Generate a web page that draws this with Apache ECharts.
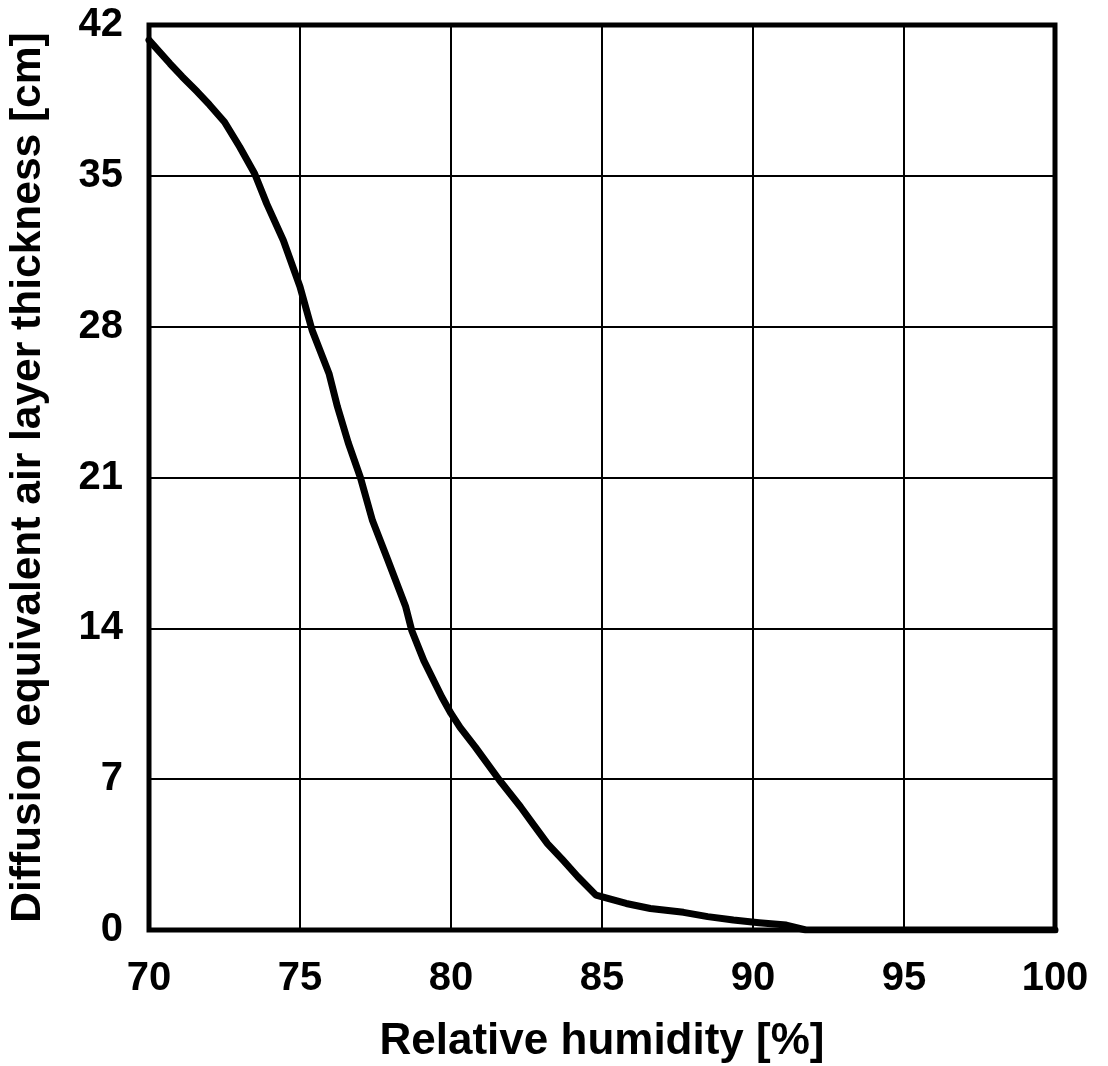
<!DOCTYPE html>
<html>
<head>
<meta charset="utf-8">
<script src="https://cdn.jsdelivr.net/npm/echarts@6/dist/echarts.min.js"></script>
<style>
html,body{margin:0;padding:0;background:#fff;}
#chart{width:1108px;height:1066px;}
</style>
</head>
<body>
<div id="chart"></div>
<script>
const relativeHumidity = [70, 70.7, 71.1, 71.6, 72.0, 72.5, 73.0, 73.5, 73.9, 74.45, 75.0, 75.4, 75.96, 76.24, 76.6, 77.0, 77.4, 77.9, 78.5, 78.7, 79.1, 79.7, 80.0, 80.3, 80.8, 81.6, 82.3, 82.7, 83.2, 83.7, 84.2, 84.8, 85.8, 86.6, 87.7, 88.5, 89.35, 90.2, 91.1, 91.75, 100];
const airLayerThickness = [41.3, 40.2, 39.6, 38.9, 38.3, 37.5, 36.35, 35.1, 33.7, 32.0, 29.85, 27.84, 25.83, 24.28, 22.6, 21.0, 19.0, 17.2, 15.0, 13.9, 12.5, 10.8, 10.05, 9.4, 8.5, 6.96, 5.72, 4.95, 4.0, 3.25, 2.47, 1.62, 1.23, 1.0, 0.82, 0.62, 0.46, 0.34, 0.23, 0.0, 0.0];
const xTicks = [70, 75, 80, 85, 90, 95, 100];
const yTicks = [0, 7, 14, 21, 28, 35, 42];
const xTitle = 'Relative humidity [%]';
const yTitle = 'Diffusion equivalent air layer thickness [cm]';

const font = 'Liberation Sans, Arial, sans-serif';
const chart = echarts.init(document.getElementById('chart'), null, {renderer: 'canvas'});
chart.setOption({
  animation: false,
  backgroundColor: '#ffffff',
  grid: {
    left: 149, right: 53, top: 25, bottom: 136,
    containLabel: false, outerBoundsMode: 'none',
    show: true, borderColor: '#000', borderWidth: 5, backgroundColor: 'transparent'
  },
  xAxis: {
    type: 'value',
    min: xTicks[0], max: xTicks[xTicks.length - 1], interval: 5,
    name: xTitle, nameLocation: 'middle', nameGap: 90,
    nameTextStyle: {fontFamily: font, fontWeight: 'bold', fontSize: 44, color: '#000'},
    axisLine: {show: false},
    axisTick: {show: false},
    axisLabel: {margin: 29, fontFamily: font, fontWeight: 'bold', fontSize: 40, color: '#000'},
    splitLine: {show: true, lineStyle: {color: '#000', width: 2}}
  },
  yAxis: {
    type: 'value',
    min: yTicks[0], max: yTicks[yTicks.length - 1], interval: 7,
    name: yTitle, nameLocation: 'middle', nameGap: 99, nameRotate: 90,
    nameTextStyle: {fontFamily: font, fontWeight: 'bold', fontSize: 42.5, color: '#000'},
    axisLine: {show: false},
    axisTick: {show: false},
    axisLabel: {margin: 26, fontFamily: font, fontWeight: 'bold', fontSize: 40, color: '#000'},
    splitLine: {show: true, lineStyle: {color: '#000', width: 2}}
  },
  series: [{
    type: 'line',
    data: relativeHumidity.map((x, i) => [x, airLayerThickness[i]]),
    showSymbol: false,
    smooth: false,
    lineStyle: {color: '#000', width: 7, join: 'round', cap: 'round'},
    z: 3
  }]
});
</script>
</body>
</html>
